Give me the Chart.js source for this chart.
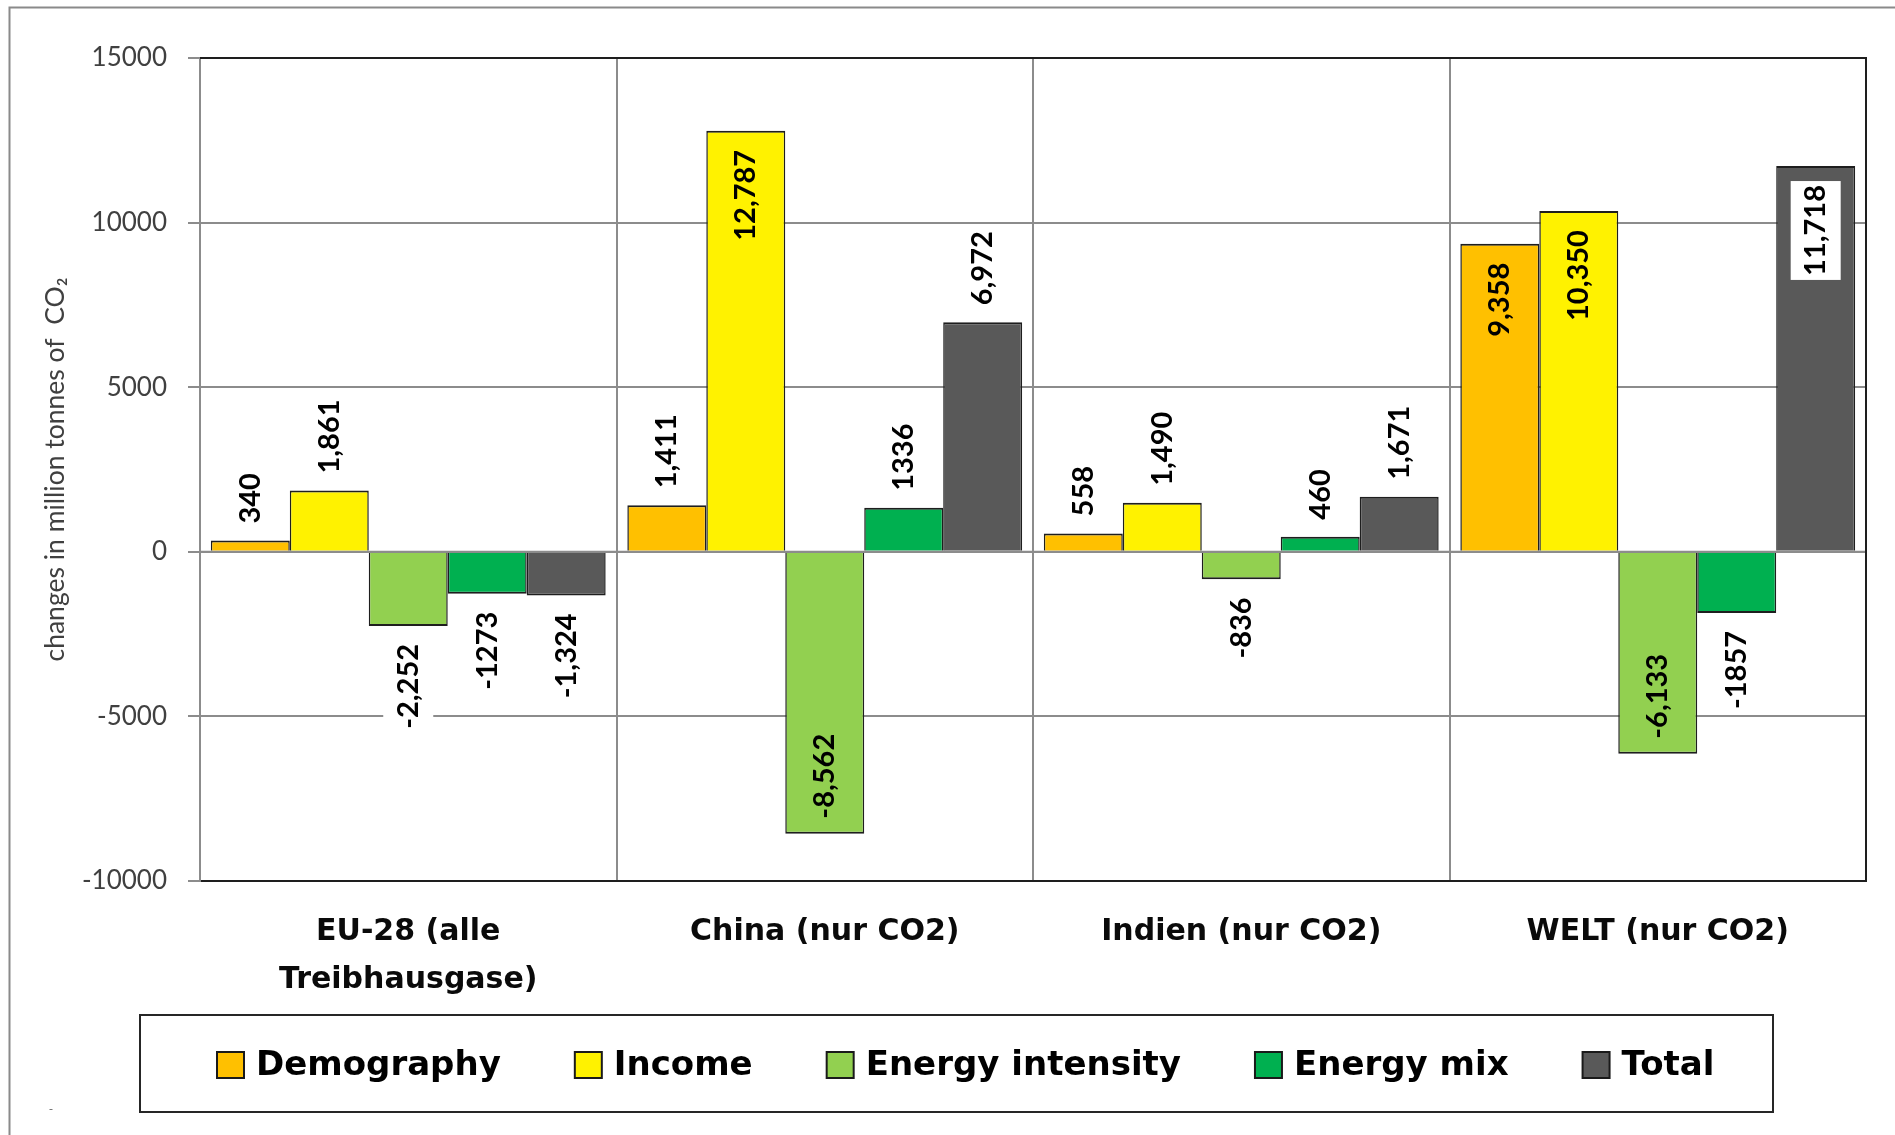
<!DOCTYPE html>
<html>
<head>
<meta charset="utf-8">
<title>CO2 decomposition</title>
<script src="https://cdn.jsdelivr.net/npm/chart.js@4.4.1/dist/chart.umd.min.js"></script>
<style>
  html, body { margin: 0; padding: 0; background: #ffffff; }
  canvas { display: block; }
</style>
</head>
<body>
<canvas id="chart" width="1895" height="1135"></canvas>
<script>
// ---- data ----
const regions = [['EU-28 (alle', 'Treibhausgase)'], 'China (nur CO2)', 'Indien (nur CO2)', 'WELT (nur CO2)'];
const seriesNames = ['Demography', 'Income', 'Energy intensity', 'Energy mix', 'Total'];
const demography = [340, 1411, 558, 9358];
const income = [1861, 12787, 1490, 10350];
const energyIntensity = [-2252, -8562, -836, -6133];
const energyMix = [-1273, 1336, 460, -1857];
const total = [-1324, 6972, 1671, 11718];
const yTicks = [-10000, -5000, 0, 5000, 10000, 15000];
const yTitle = 'changes in million tonnes of  CO\u2082';

// ---- styling ----
const seriesColors = ['#FFC000', '#FFF200', '#92D050', '#00B050', '#595959'];
const GRID = '#8c8c8c';
const EDGE = '#1e1e1e';
const TICK_FONT = { family: 'Lato', size: 26 };
const VALUE_FONT = 'bold 29px Lato';
const CAT_FONT = { family: '"DejaVu Sans"', size: 30, weight: 'bold', lineHeight: 1.6 };
const LEGEND_FONT = 'bold 34px "DejaVu Sans"';

// value labels that sit inside the bar end instead of beyond it
const insideLabels = new Set(['Demography|3', 'Income|1', 'Income|3', 'Energy intensity|1', 'Energy intensity|3', 'Total|3']);
// inside labels that still keep their white backing box
const boxedInside = new Set(['Total|3']);
// series whose numbers are printed without a thousands separator
const plainNumbers = new Set(['Energy mix']);

const seriesValues = [demography, income, energyIntensity, energyMix, total];

function formatValue(series, v) {
  return plainNumbers.has(series) ? String(v) : v.toLocaleString('en-US');
}

// outer frame, plot border and tiny footer mark
const framePlugin = {
  id: 'frame',
  beforeDraw(chart) {
    const ctx = chart.ctx;
    ctx.save();
    ctx.fillStyle = '#ffffff';
    ctx.fillRect(0, 0, chart.width, chart.height);
    ctx.strokeStyle = '#8a8a8a';
    ctx.lineWidth = 2;
    ctx.beginPath();
    ctx.moveTo(9.5, chart.height);
    ctx.lineTo(9.5, 7.5);
    ctx.lineTo(chart.width, 7.5);
    ctx.stroke();
    ctx.fillStyle = '#666';
    ctx.font = '12px Lato';
    ctx.textAlign = 'center';
    ctx.textBaseline = 'middle';
    ctx.fillText('-', 51, 1109);
    ctx.restore();
  },
  afterDraw(chart) {
    const ctx = chart.ctx;
    const a = chart.chartArea;
    ctx.save();
    ctx.strokeStyle = EDGE;
    ctx.lineWidth = 2;
    ctx.beginPath();
    ctx.moveTo(a.left, a.top);
    ctx.lineTo(a.right, a.top);
    ctx.lineTo(a.right, a.bottom);
    ctx.stroke();
    ctx.restore();
  }
};

// rotated value labels on every bar
const valueLabelPlugin = {
  id: 'valueLabels',
  afterDatasetsDraw(chart) {
    const ctx = chart.ctx;
    const a = chart.chartArea;
    const y0 = chart.scales.y.getPixelForValue(0);
    ctx.save();
    // zero line above the bar bases
    ctx.strokeStyle = GRID;
    ctx.lineWidth = 2;
    ctx.beginPath();
    ctx.moveTo(a.left, y0);
    ctx.lineTo(a.right, y0);
    ctx.stroke();

    ctx.font = VALUE_FONT;
    ctx.textBaseline = 'middle';
    chart.data.datasets.forEach((ds, di) => {
      chart.getDatasetMeta(di).data.forEach((bar, i) => {
        const v = ds.data[i];
        const text = formatValue(ds.label, v);
        const key = ds.label + '|' + i;
        const inside = insideLabels.has(key);
        const boxed = !inside || boxedInside.has(key);
        const w = ctx.measureText(text).width;
        let anchor, align;
        if (v >= 0 && !inside) { anchor = bar.y - 17; align = 'left'; }
        else if (v >= 0) { anchor = bar.y + 19; align = 'right'; }
        else if (!inside) { anchor = bar.y + 18; align = 'right'; }
        else { anchor = bar.y - 15; align = 'left'; }
        ctx.save();
        ctx.translate(bar.x, anchor);
        ctx.rotate(-Math.PI / 2);
        const x0 = align === 'left' ? 0 : -w;
        if (boxed) {
          ctx.fillStyle = '#ffffff';
          ctx.fillRect(x0 - 4, -25, w + 8, 50);
        }
        ctx.fillStyle = '#000000';
        ctx.textAlign = align;
        ctx.fillText(text, 0, 0);
        ctx.restore();
      });
    });
    ctx.restore();
  }
};

// boxed legend row under the chart
const legendBoxPlugin = {
  id: 'legendBox',
  afterDraw(chart) {
    const ctx = chart.ctx;
    const box = { x: 140, y: 1015, w: 1633, h: 97 };
    ctx.save();
    ctx.strokeStyle = '#262626';
    ctx.lineWidth = 2;
    ctx.strokeRect(box.x, box.y, box.w, box.h);

    ctx.font = LEGEND_FONT;
    ctx.textBaseline = 'middle';
    ctx.textAlign = 'left';
    const sq = 27, gapText = 12, gapItem = 74;
    let x = 217;
    const cy = 1065;
    chart.data.datasets.forEach(ds => {
      const w = ctx.measureText(ds.label).width;
      ctx.fillStyle = ds.backgroundColor;
      ctx.fillRect(x, cy - 13, sq, 26);
      ctx.strokeStyle = '#1a1a1a';
      ctx.lineWidth = 2;
      ctx.strokeRect(x, cy - 13, sq, 26);
      ctx.fillStyle = '#000000';
      ctx.fillText(ds.label, x + sq + gapText, cy + 1);
      x += sq + gapText + w + gapItem;
    });
    ctx.restore();
  }
};

function build() {
  new Chart(document.getElementById('chart'), {
    type: 'bar',
    data: {
      labels: regions,
      datasets: seriesNames.map((name, k) => ({
        label: name,
        data: seriesValues[k],
        backgroundColor: seriesColors[k],
        borderColor: EDGE,
        borderWidth: { top: 2, bottom: 2, left: 1.5, right: 1.5 },
        borderSkipped: 'start',
        categoryPercentage: 0.948,
        barPercentage: 1.0
      }))
    },
    options: {
      responsive: false,
      devicePixelRatio: 1,
      animation: false,
      events: [],
      layout: { padding: { left: 0, top: 58, right: 29, bottom: 0 } },
      plugins: {
        legend: { display: false },
        tooltip: { enabled: false }
      },
      scales: {
        x: {
          grid: { offset: true, color: GRID, lineWidth: 2, drawTicks: false },
          border: { display: true, color: EDGE, width: 2 },
          ticks: {
            autoSkip: false, maxRotation: 0, minRotation: 0,
            padding: 27, color: '#0a0a0a', font: CAT_FONT
          },
          afterFit(scale) { scale.height = 254; }
        },
        y: {
          min: yTicks[0],
          max: yTicks[yTicks.length - 1],
          afterBuildTicks(scale) { scale.ticks = yTicks.map(v => ({ value: v })); },
          grid: { color: GRID, lineWidth: 2, drawTicks: true, tickLength: 12, tickColor: GRID },
          border: { display: true, color: GRID, width: 2 },
          ticks: {
            padding: 21, color: '#404040', font: TICK_FONT,
            callback: v => String(v)
          },
          title: {
            display: true, text: yTitle, color: '#404040',
            font: { family: 'Lato', size: 26.5 },
            padding: { top: 40, bottom: 0 }
          },
          afterFit(scale) { scale.width = 200; }
        }
      }
    },
    plugins: [framePlugin, valueLabelPlugin, legendBoxPlugin]
  });
}

const fontLoads = [
  '26px Lato', 'bold 29px Lato', '26.5px Lato',
  'bold 30px "DejaVu Sans"', 'bold 34px "DejaVu Sans"'
].map(f => document.fonts.load(f));
Promise.all(fontLoads).then(build, build);
</script>
</body>
</html>
